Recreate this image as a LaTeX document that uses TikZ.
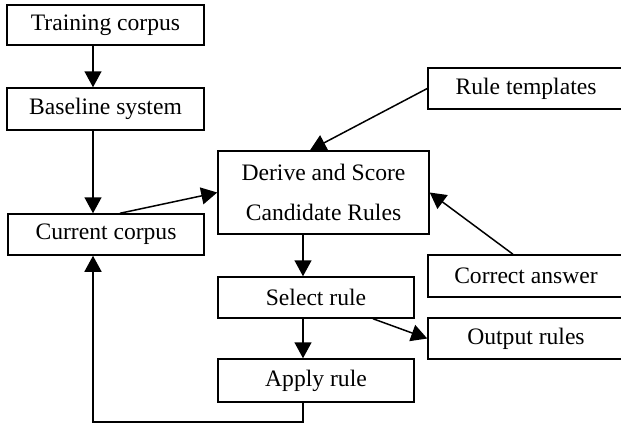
\documentclass[tikz,border=0pt]{standalone}
\usepackage{fontspec}
\setmainfont{Liberation Serif}
\usetikzlibrary{arrows.meta}

\begin{document}
\begin{tikzpicture}[x=0.5pt,y=-0.5pt,
    box/.style={draw,line width=0.75pt,inner sep=0pt,minimum width=98pt,minimum height=20.5pt,
        font=\fontsize{11.8}{20}\selectfont,align=center},
    arr/.style={line width=0.75pt,-{Triangle[length=8pt,width=8.5pt]}}]
                    \useasboundingbox (0,0) rectangle (621,425);
                    \path
                    (105.5,25) node[box,minimum width=98.5pt,minimum height=20pt](train) {Training corpus}
                    (105.5,109) node[box,minimum width=98.5pt,minimum height=21pt](base) {Baseline system}
                    (106,234.5) node[box](current) {Current corpus}
                    (323.5,192.5) node[box,minimum width=105.5pt,minimum height=41.5pt](derive) {Derive and Score\\Candidate Rules}
                    (526,88.5) node[box](templates) {Rule templates}
                    (526,276) node[box,minimum height=21pt](answer) {Correct answer}
                    (526,338.5) node[box](output) {Output rules}
                    (316,297.5) node[box](select) {Select rule}
                    (316,380.5) node[box,minimum height=21.5pt](apply) {Apply rule};

                    \draw[arr] ([xshift=-6.25pt]train.south) -- ([xshift=-6.25pt]base.north);
                    \draw[arr] ([xshift=-6.25pt]base.south) -- ([xshift=-6.5pt]current.north);
                    \draw[arr] ([xshift=7pt]current.north) -- (derive.west);
                    \draw[arr] (templates.west) -- ([xshift=-6.75pt]derive.north);
                    \draw[arr] ([xshift=-6.5pt]answer.north) -- (derive.east);
                    \draw[arr] ([xshift=-6.5pt]select.north |- derive.south) -- ([xshift=-6.5pt]select.north);
                    \draw[arr] ([xshift=-6.5pt]select.south) -- ([xshift=-6.5pt]apply.north);
                    \draw[arr] ([xshift=28.5pt]select.south) -- (output.west);
                    \draw[arr] ([xshift=-6.5pt]apply.south) -- ++(0,-9.5pt) -| ([xshift=-6.5pt]current.south);
                \end{tikzpicture}
\end{document}
